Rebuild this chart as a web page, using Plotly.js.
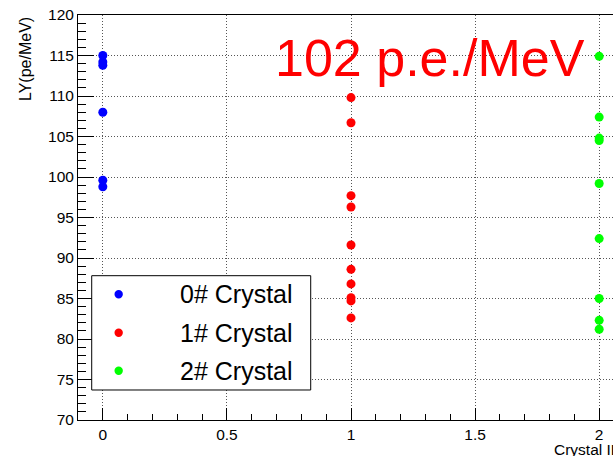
<!DOCTYPE html>
<html>
<head>
<meta charset="utf-8">
<script src="https://cdn.plot.ly/plotly-3.0.1.min.js"></script>
<style>
html, body { margin: 0; padding: 0; overflow: hidden; background: #fff; }
#chart { width: 634px; height: 456px; }
</style>
</head>
<body>
<div id="chart"></div>
<script>
// ---- data ----
const seriesNames = ["0# Crystal", "1# Crystal", "2# Crystal"];
const crystalIds = [0, 1, 2];
const crystal0LY = [115.0, 114.2, 113.8, 108.0, 99.6, 98.8];
const crystal1LY = [109.8, 106.7, 97.7, 96.3, 91.6, 88.6, 86.8, 85.1, 84.7, 82.6];
const crystal2LY = [114.9, 107.4, 104.8, 104.5, 99.2, 92.4, 85.0, 82.3, 81.2];
const seriesColors = ["#0000ff", "#ff0000", "#00ff00"];
const titleText = "102 p.e./MeV";

const allSeries = [crystal0LY, crystal1LY, crystal2LY];
const FONT = "Liberation Sans, Arial, Helvetica, sans-serif";

const traces = allSeries.map((vals, i) => ({
  type: "scatter",
  mode: "markers",
  name: seriesNames[i],
  x: vals.map(() => crystalIds[i]),
  y: vals,
  marker: { color: seriesColors[i], size: 9, symbol: "circle" },
  hoverinfo: "x+y"
}));

// custom ROOT-style legend
const legLeft = 0.0251, legRight = 0.4262, legTop = 0.3563, legBottom = 0.0741;
const legMarkX = 0.0745, legTextX = 0.3974;
const legRows = [0.3104, 0.2156, 0.1217];

const shapes = [{
  type: "rect", xref: "paper", yref: "paper",
  x0: legLeft, x1: legRight, y0: legBottom, y1: legTop,
  fillcolor: "#ffffff", line: { color: "#000000", width: 1 }, layer: "above"
}];
legRows.forEach((ry, i) => {
  shapes.push({
    type: "circle", xref: "paper", yref: "paper",
    xsizemode: "pixel", ysizemode: "pixel",
    xanchor: legMarkX, yanchor: ry,
    x0: -4.2, x1: 4.2, y0: -4.2, y1: 4.2,
    fillcolor: seriesColors[i], line: { width: 0 }, layer: "above"
  });
});

const annotations = legRows.map((ry, i) => ({
  xref: "paper", yref: "paper", x: legTextX, y: ry,
  xanchor: "right", yanchor: "middle", showarrow: false,
  text: seriesNames[i], font: { family: FONT, size: 25, color: "#000" }
}));

annotations.push({
  xref: "paper", yref: "paper", x: 0.3577, y: 0.8938,
  xanchor: "left", yanchor: "middle", showarrow: false,
  text: titleText, font: { family: FONT, size: 52, color: "#ff0000" }
});
annotations.push({
  xref: "paper", yref: "paper", x: -0.097, y: 1,
  xanchor: "center", yanchor: "top", showarrow: false, textangle: -90,
  text: "LY(pe/MeV)", font: { family: FONT, size: 16, color: "#000" }
});
annotations.push({
  xref: "paper", yref: "paper", x: 1, y: 0,
  xanchor: "right", yanchor: "top", yshift: -19, showarrow: false,
  text: "Crystal ID", font: { family: FONT, size: 15.5, color: "#000" }
});

const layout = {
  width: 634, height: 456,
  margin: { l: 78, r: 10, t: 15, b: 36 },
  paper_bgcolor: "#fff", plot_bgcolor: "#fff",
  showlegend: false,
  font: { family: FONT, color: "#000" },
  xaxis: {
    range: [-0.1, 2.1], dtick: 0.5, tick0: 0,
    ticks: "inside", ticklen: 12, tickcolor: "#000", tickwidth: 1,
    minor: { dtick: 0.1, ticks: "inside", ticklen: 6, tickcolor: "#000", showgrid: false },
    showline: true, linecolor: "#000", linewidth: 1, mirror: true,
    showgrid: true, gridcolor: "#555", griddash: "1px,2px", gridwidth: 1,
    zeroline: false,
    tickfont: { family: FONT, size: 15.5, color: "#000" }
  },
  yaxis: {
    range: [70, 120], dtick: 5, tick0: 70,
    ticks: "inside", ticklen: 16, tickcolor: "#000", tickwidth: 1,
    minor: { dtick: 1, ticks: "inside", ticklen: 8, tickcolor: "#000", showgrid: false },
    showline: true, linecolor: "#000", linewidth: 1, mirror: true,
    showgrid: true, gridcolor: "#555", griddash: "1px,2px", gridwidth: 1,
    zeroline: false,
    tickfont: { family: FONT, size: 15.5, color: "#000" }
  },
  shapes: shapes,
  annotations: annotations
};

Plotly.newPlot("chart", traces, layout, { displayModeBar: false, staticPlot: true });
</script>
</body>
</html>
